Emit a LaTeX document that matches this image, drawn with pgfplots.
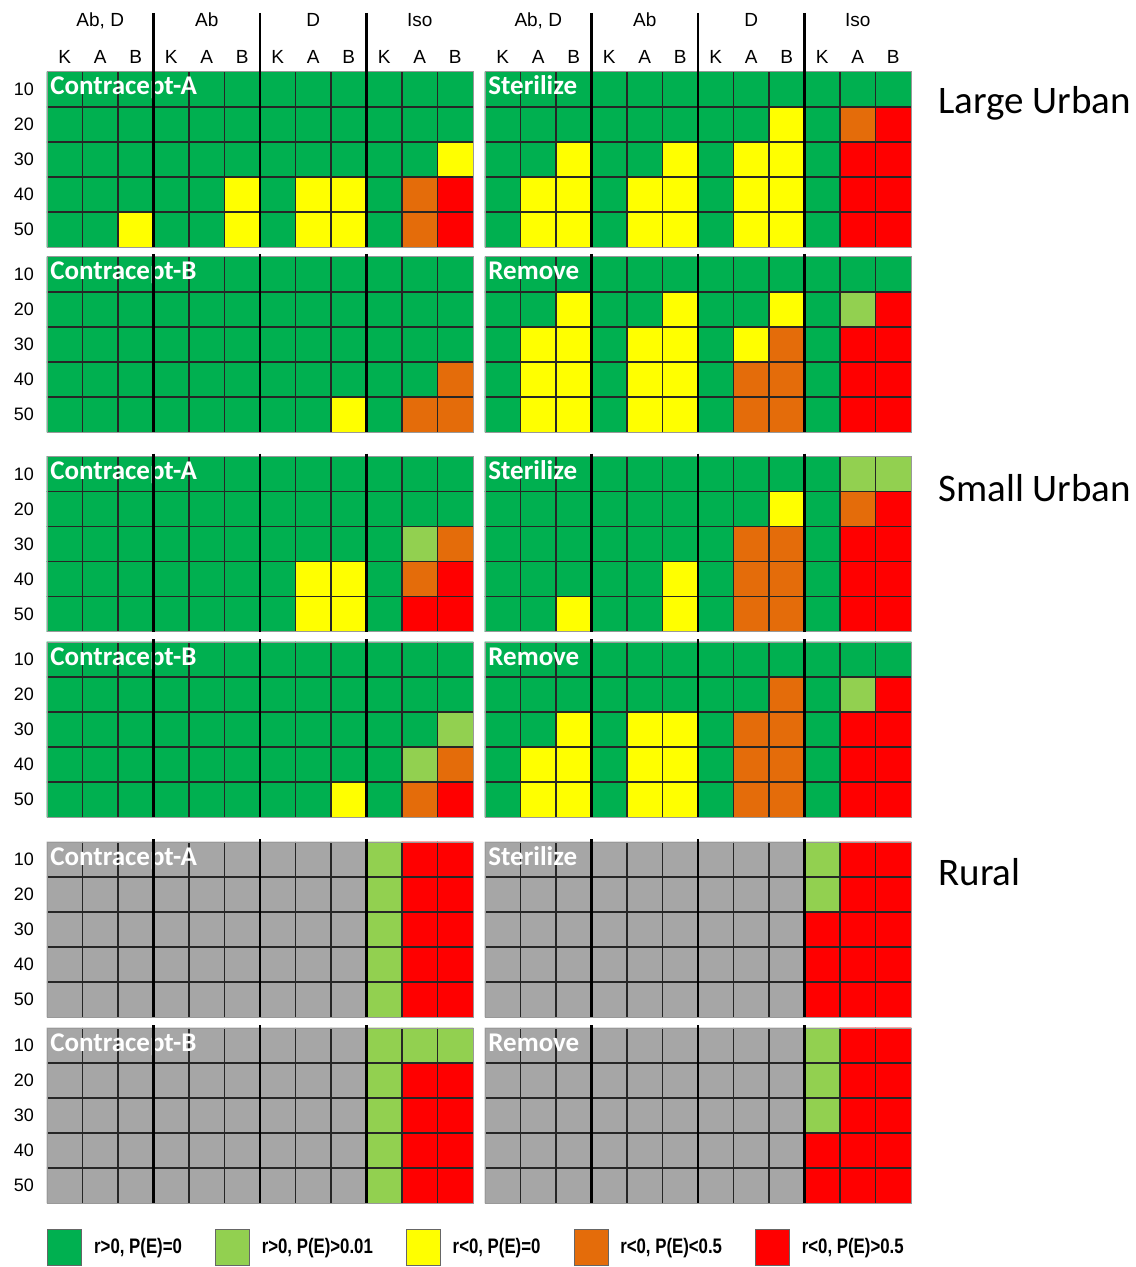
\documentclass[border=0pt]{standalone}
\usepackage{fontspec}
\setmainfont{Liberation Sans}
\newfontfamily\calibri{Carlito}
\newfontfamily\narrow[FakeStretch=0.8]{Liberation Sans}
\usepackage{pgfplots}
\usepackage{pgfplotstable}
\pgfplotsset{compat=1.18}

% codes: 0 grey (n/a), 1 r>0 P(E)=0, 2 r>0 P(E)>0.01, 3 r<0 P(E)=0,
%        4 r<0 P(E)<0.5, 5 r<0 P(E)>0.5
% 12 columns: (Ab,D) K A B | Ab K A B | D K A B | Iso K A B ; 5 rows: 10..50
\pgfplotstableread[row sep=\\]{
c\\
1\\ 1\\ 1\\ 1\\ 1\\ 1\\ 1\\ 1\\ 1\\ 1\\ 1\\ 1\\
1\\ 1\\ 1\\ 1\\ 1\\ 1\\ 1\\ 1\\ 1\\ 1\\ 1\\ 1\\
1\\ 1\\ 1\\ 1\\ 1\\ 1\\ 1\\ 1\\ 1\\ 1\\ 1\\ 3\\
1\\ 1\\ 1\\ 1\\ 1\\ 3\\ 1\\ 3\\ 3\\ 1\\ 4\\ 5\\
1\\ 1\\ 3\\ 1\\ 1\\ 3\\ 1\\ 3\\ 3\\ 1\\ 4\\ 5\\
}\luA
\pgfplotstableread[row sep=\\]{
c\\
1\\ 1\\ 1\\ 1\\ 1\\ 1\\ 1\\ 1\\ 1\\ 1\\ 1\\ 1\\
1\\ 1\\ 1\\ 1\\ 1\\ 1\\ 1\\ 1\\ 3\\ 1\\ 4\\ 5\\
1\\ 1\\ 3\\ 1\\ 1\\ 3\\ 1\\ 3\\ 3\\ 1\\ 5\\ 5\\
1\\ 3\\ 3\\ 1\\ 3\\ 3\\ 1\\ 3\\ 3\\ 1\\ 5\\ 5\\
1\\ 3\\ 3\\ 1\\ 3\\ 3\\ 1\\ 3\\ 3\\ 1\\ 5\\ 5\\
}\luS
\pgfplotstableread[row sep=\\]{
c\\
1\\ 1\\ 1\\ 1\\ 1\\ 1\\ 1\\ 1\\ 1\\ 1\\ 1\\ 1\\
1\\ 1\\ 1\\ 1\\ 1\\ 1\\ 1\\ 1\\ 1\\ 1\\ 1\\ 1\\
1\\ 1\\ 1\\ 1\\ 1\\ 1\\ 1\\ 1\\ 1\\ 1\\ 1\\ 1\\
1\\ 1\\ 1\\ 1\\ 1\\ 1\\ 1\\ 1\\ 1\\ 1\\ 1\\ 4\\
1\\ 1\\ 1\\ 1\\ 1\\ 1\\ 1\\ 1\\ 3\\ 1\\ 4\\ 4\\
}\luB
\pgfplotstableread[row sep=\\]{
c\\
1\\ 1\\ 1\\ 1\\ 1\\ 1\\ 1\\ 1\\ 1\\ 1\\ 1\\ 1\\
1\\ 1\\ 3\\ 1\\ 1\\ 3\\ 1\\ 1\\ 3\\ 1\\ 2\\ 5\\
1\\ 3\\ 3\\ 1\\ 3\\ 3\\ 1\\ 3\\ 4\\ 1\\ 5\\ 5\\
1\\ 3\\ 3\\ 1\\ 3\\ 3\\ 1\\ 4\\ 4\\ 1\\ 5\\ 5\\
1\\ 3\\ 3\\ 1\\ 3\\ 3\\ 1\\ 4\\ 4\\ 1\\ 5\\ 5\\
}\luR
\pgfplotstableread[row sep=\\]{
c\\
1\\ 1\\ 1\\ 1\\ 1\\ 1\\ 1\\ 1\\ 1\\ 1\\ 1\\ 1\\
1\\ 1\\ 1\\ 1\\ 1\\ 1\\ 1\\ 1\\ 1\\ 1\\ 1\\ 1\\
1\\ 1\\ 1\\ 1\\ 1\\ 1\\ 1\\ 1\\ 1\\ 1\\ 2\\ 4\\
1\\ 1\\ 1\\ 1\\ 1\\ 1\\ 1\\ 3\\ 3\\ 1\\ 4\\ 5\\
1\\ 1\\ 1\\ 1\\ 1\\ 1\\ 1\\ 3\\ 3\\ 1\\ 5\\ 5\\
}\suA
\pgfplotstableread[row sep=\\]{
c\\
1\\ 1\\ 1\\ 1\\ 1\\ 1\\ 1\\ 1\\ 1\\ 1\\ 2\\ 2\\
1\\ 1\\ 1\\ 1\\ 1\\ 1\\ 1\\ 1\\ 3\\ 1\\ 4\\ 5\\
1\\ 1\\ 1\\ 1\\ 1\\ 1\\ 1\\ 4\\ 4\\ 1\\ 5\\ 5\\
1\\ 1\\ 1\\ 1\\ 1\\ 3\\ 1\\ 4\\ 4\\ 1\\ 5\\ 5\\
1\\ 1\\ 3\\ 1\\ 1\\ 3\\ 1\\ 4\\ 4\\ 1\\ 5\\ 5\\
}\suS
\pgfplotstableread[row sep=\\]{
c\\
1\\ 1\\ 1\\ 1\\ 1\\ 1\\ 1\\ 1\\ 1\\ 1\\ 1\\ 1\\
1\\ 1\\ 1\\ 1\\ 1\\ 1\\ 1\\ 1\\ 1\\ 1\\ 1\\ 1\\
1\\ 1\\ 1\\ 1\\ 1\\ 1\\ 1\\ 1\\ 1\\ 1\\ 1\\ 2\\
1\\ 1\\ 1\\ 1\\ 1\\ 1\\ 1\\ 1\\ 1\\ 1\\ 2\\ 4\\
1\\ 1\\ 1\\ 1\\ 1\\ 1\\ 1\\ 1\\ 3\\ 1\\ 4\\ 5\\
}\suB
\pgfplotstableread[row sep=\\]{
c\\
1\\ 1\\ 1\\ 1\\ 1\\ 1\\ 1\\ 1\\ 1\\ 1\\ 1\\ 1\\
1\\ 1\\ 1\\ 1\\ 1\\ 1\\ 1\\ 1\\ 4\\ 1\\ 2\\ 5\\
1\\ 1\\ 3\\ 1\\ 3\\ 3\\ 1\\ 4\\ 4\\ 1\\ 5\\ 5\\
1\\ 3\\ 3\\ 1\\ 3\\ 3\\ 1\\ 4\\ 4\\ 1\\ 5\\ 5\\
1\\ 3\\ 3\\ 1\\ 3\\ 3\\ 1\\ 4\\ 4\\ 1\\ 5\\ 5\\
}\suR
\pgfplotstableread[row sep=\\]{
c\\
0\\ 0\\ 0\\ 0\\ 0\\ 0\\ 0\\ 0\\ 0\\ 2\\ 5\\ 5\\
0\\ 0\\ 0\\ 0\\ 0\\ 0\\ 0\\ 0\\ 0\\ 2\\ 5\\ 5\\
0\\ 0\\ 0\\ 0\\ 0\\ 0\\ 0\\ 0\\ 0\\ 2\\ 5\\ 5\\
0\\ 0\\ 0\\ 0\\ 0\\ 0\\ 0\\ 0\\ 0\\ 2\\ 5\\ 5\\
0\\ 0\\ 0\\ 0\\ 0\\ 0\\ 0\\ 0\\ 0\\ 2\\ 5\\ 5\\
}\ruA
\pgfplotstableread[row sep=\\]{
c\\
0\\ 0\\ 0\\ 0\\ 0\\ 0\\ 0\\ 0\\ 0\\ 2\\ 5\\ 5\\
0\\ 0\\ 0\\ 0\\ 0\\ 0\\ 0\\ 0\\ 0\\ 2\\ 5\\ 5\\
0\\ 0\\ 0\\ 0\\ 0\\ 0\\ 0\\ 0\\ 0\\ 5\\ 5\\ 5\\
0\\ 0\\ 0\\ 0\\ 0\\ 0\\ 0\\ 0\\ 0\\ 5\\ 5\\ 5\\
0\\ 0\\ 0\\ 0\\ 0\\ 0\\ 0\\ 0\\ 0\\ 5\\ 5\\ 5\\
}\ruS
\pgfplotstableread[row sep=\\]{
c\\
0\\ 0\\ 0\\ 0\\ 0\\ 0\\ 0\\ 0\\ 0\\ 2\\ 2\\ 2\\
0\\ 0\\ 0\\ 0\\ 0\\ 0\\ 0\\ 0\\ 0\\ 2\\ 5\\ 5\\
0\\ 0\\ 0\\ 0\\ 0\\ 0\\ 0\\ 0\\ 0\\ 2\\ 5\\ 5\\
0\\ 0\\ 0\\ 0\\ 0\\ 0\\ 0\\ 0\\ 0\\ 2\\ 5\\ 5\\
0\\ 0\\ 0\\ 0\\ 0\\ 0\\ 0\\ 0\\ 0\\ 2\\ 5\\ 5\\
}\ruB
\pgfplotstableread[row sep=\\]{
c\\
0\\ 0\\ 0\\ 0\\ 0\\ 0\\ 0\\ 0\\ 0\\ 2\\ 5\\ 5\\
0\\ 0\\ 0\\ 0\\ 0\\ 0\\ 0\\ 0\\ 0\\ 2\\ 5\\ 5\\
0\\ 0\\ 0\\ 0\\ 0\\ 0\\ 0\\ 0\\ 0\\ 2\\ 5\\ 5\\
0\\ 0\\ 0\\ 0\\ 0\\ 0\\ 0\\ 0\\ 0\\ 5\\ 5\\ 5\\
0\\ 0\\ 0\\ 0\\ 0\\ 0\\ 0\\ 0\\ 0\\ 5\\ 5\\ 5\\
}\ruR

\definecolor{cgrey}{RGB}{166,166,166}
\definecolor{cgreen}{RGB}{0,176,80}
\definecolor{clight}{RGB}{146,208,80}
\definecolor{cyellow}{RGB}{255,255,0}
\definecolor{corange}{RGB}{228,108,10}
\definecolor{cred}{RGB}{255,0,0}

\pgfplotsset{
  panel/.style={
    width=213pt, height=87.5pt, scale only axis, anchor=north west,
    xmin=-0.5, xmax=11.5, ymin=-0.5, ymax=4.5, y dir=reverse,
    xtick=\empty, ytick=\empty, major tick length=0pt,
    extra x ticks={0.5,1.5,...,10.5}, extra y ticks={0.5,1.5,2.5,3.5},
    extra x tick labels={}, extra y tick labels={},
    extra tick style={grid=major, major tick length=0pt,
      major grid style={black!85, line width=0.55pt}},
    axis line style={black!40, line width=0.5pt},
    set layers, axis on top, clip=false,
    colormap={cells}{rgb255=(166,166,166) rgb255=(0,176,80) rgb255=(146,208,80)
      rgb255=(255,255,0) rgb255=(228,108,10) rgb255=(255,0,0)},
    colormap access=direct,
  },
  leftpanel/.style={panel, ytick={0,...,4}, yticklabels={10,20,30,40,50},
    yticklabel style={font=\fontsize{9}{10}\selectfont, xshift=-3pt}},
  toppanel/.style={xtick={0,...,11},
    xticklabels={K,A,B,K,A,B,K,A,B,K,A,B}, xticklabel pos=upper,
    xticklabel style={font=\fontsize{9.5}{10}\selectfont, anchor=base, yshift=4pt}},
}

\newcommand{\cells}[1]{%
  \addplot[matrix plot*, mesh/cols=12, point meta=explicit, forget plot]
    table[x index=0, y index=0, meta index=0,
      x expr={mod(\coordindex,12)}, y expr={floor(\coordindex/12)}] {#1};}
% panel name above the thin grid, thick group separators above the name
\newcommand{\topper}[2]{%
  \begin{pgfonlayer}{axis foreground}
  \node[anchor=base west, inner sep=0pt, text=white, font=\calibri\bfseries\fontsize{13.5}{14}\selectfont]
    at ([xshift=1.5pt, yshift=-2.75pt]axis cs:-0.5,0) {#2};
  \draw[line width=1.25pt] ([yshift=#1]axis cs:2.5,-0.5) -- (axis cs:2.5,4.5);
  \draw[line width=1.25pt] ([yshift=#1]axis cs:5.5,-0.5) -- (axis cs:5.5,4.5);
  \draw[line width=1.25pt] ([yshift=#1]axis cs:8.5,-0.5) -- (axis cs:8.5,4.5);
  \end{pgfonlayer}}
\newcommand{\heads}{%
  \node[anchor=base, font=\fontsize{9.5}{10}\selectfont] at ([yshift=22.5pt]axis cs:1,-0.5) {Ab, D};
  \node[anchor=base, font=\fontsize{9.5}{10}\selectfont] at ([yshift=22.5pt]axis cs:4,-0.5) {Ab};
  \node[anchor=base, font=\fontsize{9.5}{10}\selectfont] at ([yshift=22.5pt]axis cs:7,-0.5) {D};
  \node[anchor=base, font=\fontsize{9.5}{10}\selectfont] at ([yshift=22.5pt]axis cs:10,-0.5) {Iso};}

\begin{document}
\begin{tikzpicture}
\path (0,0) rectangle (567.5pt,-633.5pt);

% Large Urban
\begin{axis}[leftpanel, toppanel, at={(23.5pt,-36pt)}]
  \cells{\luA} \heads \topper{29.5pt}{Contracept-A}
\end{axis}
\begin{axis}[panel, toppanel, at={(242.5pt,-36pt)}]
  \cells{\luS} \heads \topper{29.5pt}{Sterilize}
\end{axis}
\begin{axis}[leftpanel, at={(23.5pt,-128.5pt)}]
  \cells{\luB} \topper{1.5pt}{Contracept-B}
\end{axis}
\begin{axis}[panel, at={(242.5pt,-128.5pt)}]
  \cells{\luR} \topper{1.5pt}{Remove}
\end{axis}

% Small Urban
\begin{axis}[leftpanel, at={(23.5pt,-228.25pt)}]
  \cells{\suA} \topper{1.5pt}{Contracept-A}
\end{axis}
\begin{axis}[panel, at={(242.5pt,-228.25pt)}]
  \cells{\suS} \topper{1.5pt}{Sterilize}
\end{axis}
\begin{axis}[leftpanel, at={(23.5pt,-321pt)}]
  \cells{\suB} \topper{1.5pt}{Contracept-B}
\end{axis}
\begin{axis}[panel, at={(242.5pt,-321pt)}]
  \cells{\suR} \topper{1.5pt}{Remove}
\end{axis}

% Rural
\begin{axis}[leftpanel, at={(23.5pt,-421pt)}]
  \cells{\ruA} \topper{1.5pt}{Contracept-A}
\end{axis}
\begin{axis}[panel, at={(242.5pt,-421pt)}]
  \cells{\ruS} \topper{1.5pt}{Sterilize}
\end{axis}
\begin{axis}[panel, at={(242.5pt,-514pt)}]
  \cells{\ruR} \topper{1.5pt}{Remove}
\end{axis}
\begin{axis}[leftpanel, at={(23.5pt,-514pt)},
    legend style={at={(0,-0.2514)}, anchor=west, draw=none, fill=none,
      inner sep=0pt, legend columns=-1, font=\narrow\bfseries\fontsize{10.5}{12}\selectfont,
      nodes={inner sep=0pt, anchor=west},
      /tikz/every odd column/.append style={column sep=6pt},
      /tikz/every even column/.append style={column sep=16.5pt}},
    legend image code/.code={\draw[#1] (0pt,-9pt) rectangle (17pt,9pt);}]
  \cells{\ruB} \topper{1.5pt}{Contracept-B}
  \addlegendimage{fill=cgreen, draw=black!60}
  \addlegendentry{r>0, P(E)=0}
  \addlegendimage{fill=clight, draw=black!60}
  \addlegendentry{r>0, P(E)>0.01}
  \addlegendimage{fill=cyellow, draw=black!60}
  \addlegendentry{r<0, P(E)=0}
  \addlegendimage{fill=corange, draw=black!60}
  \addlegendentry{r<0, P(E)<0.5}
  \addlegendimage{fill=cred, draw=black!60}
  \addlegendentry{r<0, P(E)>0.5}
\end{axis}

\node[anchor=west, inner sep=0pt, font=\calibri\fontsize{19.5}{20}\selectfont] at (469pt,-51.5pt) {Large Urban};
\node[anchor=west, inner sep=0pt, font=\calibri\fontsize{19.5}{20}\selectfont] at (469pt,-244pt) {Small Urban};
\node[anchor=west, inner sep=0pt, font=\calibri\fontsize{19.5}{20}\selectfont] at (469pt,-436pt) {Rural};
\end{tikzpicture}
\end{document}
